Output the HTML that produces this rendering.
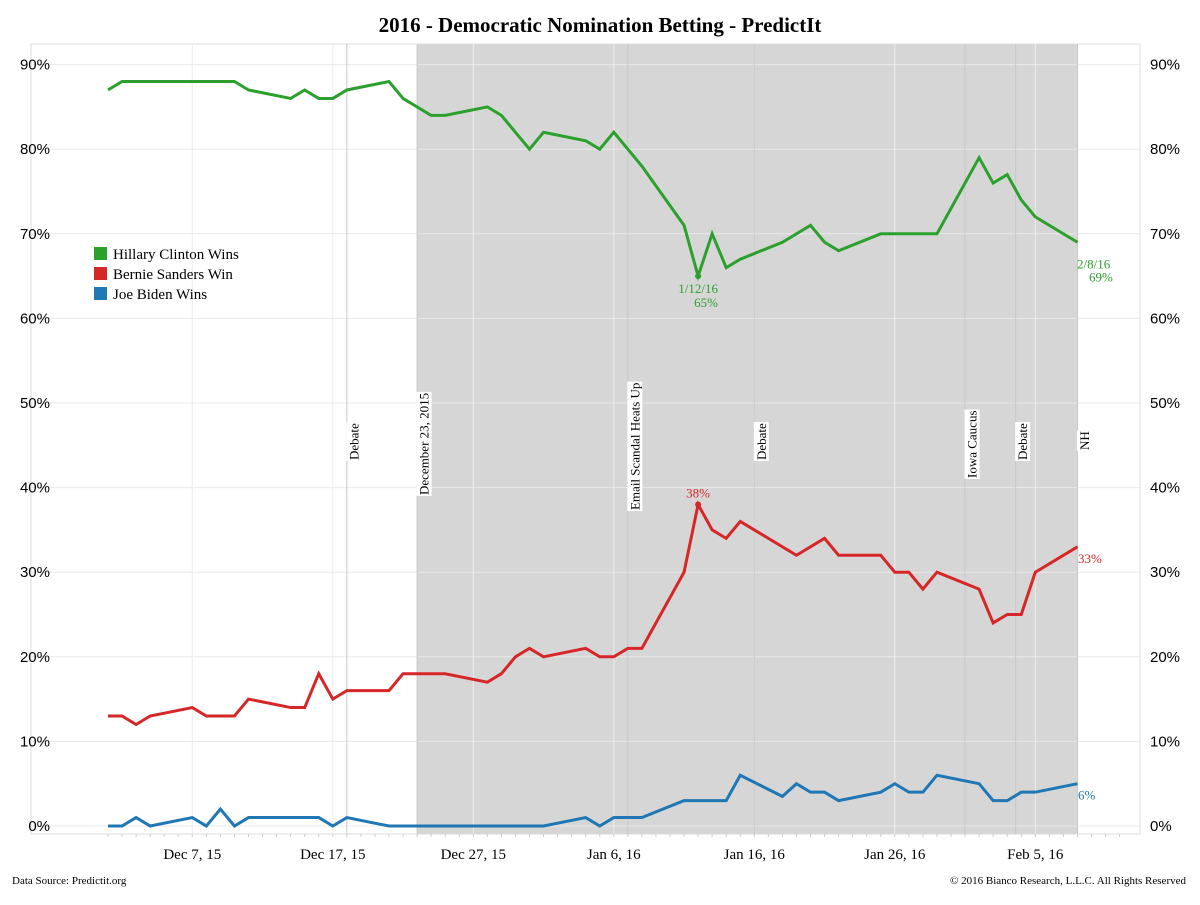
<!DOCTYPE html>
<html><head><meta charset="utf-8"><style>
body{margin:0;background:#fff;width:1200px;height:900px;overflow:hidden;font-family:"Liberation Serif",serif}
</style></head><body>
<svg id="chart" width="1200" height="900" xmlns="http://www.w3.org/2000/svg" font-family="Liberation Serif, serif">
<text x="600" y="32" text-anchor="middle" font-size="21" font-weight="bold">2016 - Democratic Nomination Betting - PredictIt</text>
<g id="plot"></g>
<text x="12" y="884" font-size="11">Data Source: Predictit.org</text>
<text x="1186" y="884" font-size="11" text-anchor="end">© 2016 Bianco Research, L.L.C. All Rights Reserved</text>
</svg>
<script>
const hillaryDays=[0,1,9,10,13,14,15,16,17,20,21,23,24,27,28,30,31,34,35,36,37,38,41,42,43,44,45,48,50,51,52,55,59,62,63,64,65,66,69];
const hillaryVals=[87,88,88,87,86,87,86,86,87,88,86,84,84,85,84,80,82,81,80,82,80,78,71,65,70,66,67,69,71,69,68,70,70,79,76,77,74,72,69];
const bernieDays=[0,1,2,3,6,7,9,10,13,14,15,16,17,20,21,24,27,28,29,30,31,34,35,36,37,38,41,42,43,44,45,49,51,52,55,56,57,58,59,62,63,64,65,66,69];
const bernieVals=[13,13,12,13,14,13,13,15,14,14,18,15,16,16,18,18,17,18,20,21,20,21,20,20,21,21,30,38,35,34,36,32,34,32,32,30,30,28,30,28,24,25,25,30,33];
const bidenDays=[0,1,2,3,6,7,8,9,10,15,16,17,20,31,34,35,36,38,41,44,45,48,49,50,51,52,55,56,57,58,59,62,63,64,65,66,69];
const bidenVals=[0,0,1,0,1,0,2,0,1,1,0,1,0,0,1,0,1,1,3,3,6,3.5,5,4,4,3,4,5,4,4,6,5,3,3,4,4,5];
const yTicks=[0,10,20,30,40,50,60,70,80,90];
const xTickDays=[6,16,26,36,46,56,66];
const xTickLabels=["Dec 7, 15","Dec 17, 15","Dec 27, 15","Jan 6, 16","Jan 16, 16","Jan 26, 16","Feb 5, 16"];
const eventDays=[17,22,37,46,61,64.6,69];
const eventLabels=["Debate","December 23, 2015","Email Scandal Heats Up","Debate","Iowa Caucus","Debate","NH"];
const eventBottoms=[460,495,510,460,478,460,450];

const NS="http://www.w3.org/2000/svg";
const X=d=>108+d*14.05;
const Y=v=>826-v*8.46;
const plot=document.getElementById('plot');
function mk(t,a,p){const e=document.createElementNS(NS,t);for(const k in a)e.setAttribute(k,a[k]);(p||plot).appendChild(e);return e;}
let bg=mk('rect',{x:31,y:44,width:1109,height:790,fill:'#fff',stroke:'#ddd'});


let sh=mk('rect',{x:X(22),y:44,width:X(69)-X(22),height:790,fill:'#d6d6d6'});


yTicks.forEach(v=>{
  let l=mk('line',{x1:31,x2:1140,y1:Y(v),y2:Y(v),stroke:'#e8e8e8','stroke-width':1});
  
  
  let t=mk('text',{x:50,y:Y(v)+5,'text-anchor':'end','font-size':15,'font-family':'Liberation Sans, sans-serif'});
  t.textContent=v+'%';
  
  
  let t2=mk('text',{x:1150,y:Y(v)+5,'font-size':15,'font-family':'Liberation Sans, sans-serif'});
  t2.textContent=v+'%';
  
  
});
xTickDays.forEach((d,i)=>{
  let l=mk('line',{x1:X(d),x2:X(d),y1:44,y2:834,stroke:'#ececec','stroke-width':1});
  
  
  let t=mk('text',{x:X(d),y:859,'text-anchor':'middle','font-size':15});
  t.textContent=xTickLabels[i];
  
  
});
for(let d=0;d<=72;d++){let tk=mk('line',{x1:X(d),x2:X(d),y1:834,y2:837,stroke:'#ccc'});}
eventDays.forEach((d,i)=>{
  let l=mk('line',{x1:X(d),x2:X(d),y1:44,y2:834,stroke:'#c8c8c8','stroke-width':1});
  
  
  const tx=X(d)+7, ty=eventBottoms[i];
  let t=mk('text',{x:tx,y:ty,transform:`rotate(-90 ${tx} ${ty})`,'font-size':13,'dominant-baseline':'central'});
  t.textContent=eventLabels[i];
  
  
  const bb=t.getBBox();
  let r=mk('rect',{x:bb.x-1,y:bb.y,width:bb.width+2,height:bb.height,fill:'#fff',transform:`rotate(-90 ${tx} ${ty})`});
  
  
  plot.insertBefore(r,t);
});
function series(days,vals,color,name){
  let p=mk('polyline',{points:days.map((d,i)=>X(d)+','+Y(vals[i])).join(' '),fill:'none',stroke:color,'stroke-width':3,'stroke-linejoin':'miter'});
  
  
}
series(hillaryDays,hillaryVals,'#2ca02c','hillary-line');
series(bernieDays,bernieVals,'#d62728','bernie-line');
series(bidenDays,bidenVals,'#1f77b4','biden-line');
function lbl(x,y,txt,color,name,anchor){
  let t=mk('text',{x:x,y:y,fill:color,'font-size':13,'text-anchor':anchor||'start'});
  t.textContent=txt;
  
  
}
const hMinI=hillaryVals.indexOf(Math.min(...hillaryVals));
let dot=mk('circle',{cx:X(hillaryDays[hMinI]),cy:Y(hillaryVals[hMinI]),r:3,fill:'#2ca02c'});

lbl(X(hillaryDays[hMinI]),Y(hillaryVals[hMinI])+17,'1/12/16','#2ca02c','hillary-min-date','middle');
lbl(X(hillaryDays[hMinI])+8,Y(hillaryVals[hMinI])+31,hillaryVals[hMinI]+'%','#2ca02c','hillary-min-value','middle');
lbl(1077,Y(hillaryVals[hillaryVals.length-1])+26,'2/8/16','#2ca02c','hillary-end-date');
lbl(1089,Y(hillaryVals[hillaryVals.length-1])+39,hillaryVals[hillaryVals.length-1]+'%','#2ca02c','hillary-end-value');
const bMaxI=bernieVals.indexOf(Math.max(...bernieVals));
let dot2=mk('circle',{cx:X(bernieDays[bMaxI]),cy:Y(bernieVals[bMaxI]),r:3,fill:'#d62728'});

lbl(X(bernieDays[bMaxI]),Y(bernieVals[bMaxI])-7,bernieVals[bMaxI]+'%','#d62728','bernie-max-value','middle');
lbl(1078,Y(bernieVals[bernieVals.length-1])+16,bernieVals[bernieVals.length-1]+'%','#d62728','bernie-end-value');
lbl(1078,Y(bidenVals[bidenVals.length-1])+16,'6%','#1f77b4','biden-end-value');
const legNames=['Hillary Clinton Wins','Bernie Sanders Win','Joe Biden Wins'];
const legColors=['#2ca02c','#d62728','#1f77b4'];
legNames.forEach((n,i)=>{
  let r=mk('rect',{x:94,y:247+i*20,width:13,height:13,fill:legColors[i]});
  
  
  let t=mk('text',{x:113,y:259+i*20,'font-size':15});
  t.textContent=n;
  
  
});
</script>
</body></html>
